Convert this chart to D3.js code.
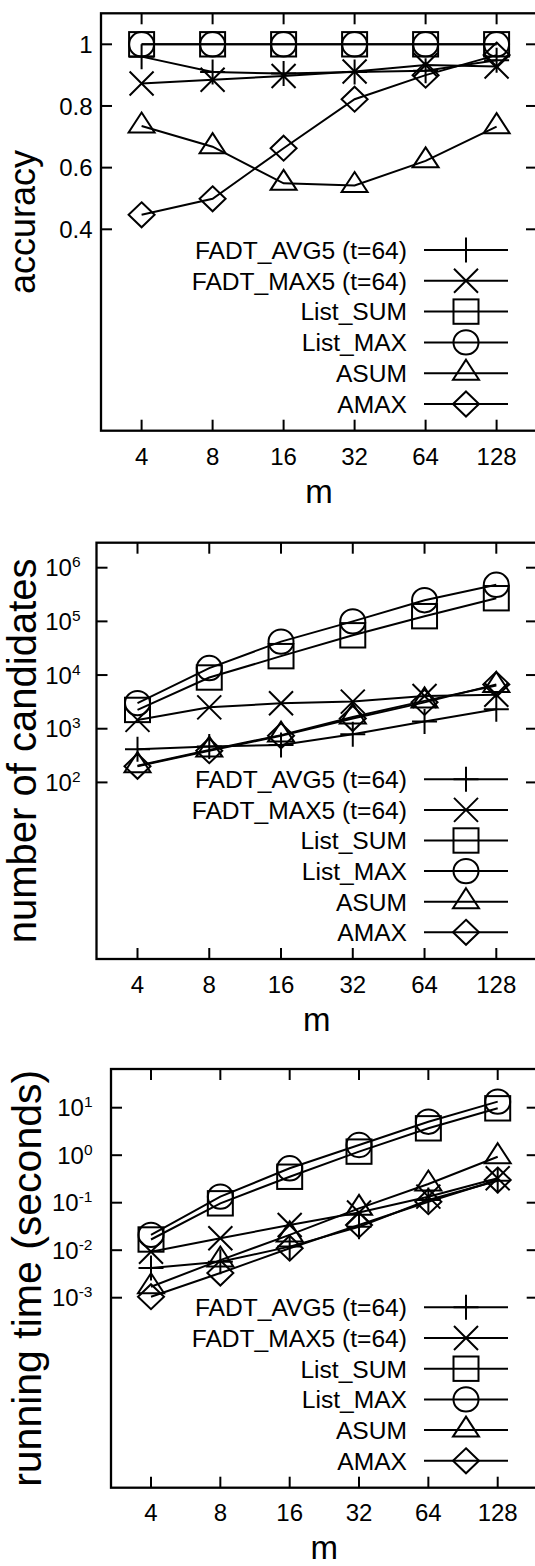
<!DOCTYPE html>
<html><head><meta charset="utf-8">
<script src="https://cdn.jsdelivr.net/npm/d3@7"></script>
<style>
body{margin:0;background:#fff}
svg{display:block}
text{font-family:"Liberation Sans",Arial,Helvetica,sans-serif;fill:#000}
</style>
</head><body>
<svg id="chart" width="535" height="1566"></svg>
<script>
// ---------- data ----------
const mValues = [4, 8, 16, 32, 64, 128];
const xTickLabels = ["4", "8", "16", "32", "64", "128"];
const seriesNames = ["FADT_AVG5 (t=64)", "FADT_MAX5 (t=64)", "List_SUM", "List_MAX", "ASUM", "AMAX"];
const seriesSymbols = ["plus", "cross", "square", "circle", "triangle", "diamond"];

// accuracy
const accFADT_AVG5 = [0.96, 0.91, 0.905, 0.91, 0.914, 0.948];
const accFADT_MAX5 = [0.873, 0.885, 0.897, 0.912, 0.933, 0.928];
const accList_SUM  = [1, 1, 1, 1, 1, 1];
const accList_MAX  = [1, 1, 1, 1, 1, 1];
const accASUM      = [0.735, 0.668, 0.549, 0.542, 0.622, 0.733];
const accAMAX      = [0.447, 0.499, 0.663, 0.822, 0.9, 0.965];
const accTicks = [0.4, 0.6, 0.8, 1];
const accTickLabels = ["0.4", "0.6", "0.8", "1"];

// number of candidates
const candFADT_AVG5 = [415, 465, 500, 790, 1360, 2300];
const candFADT_MAX5 = [1460, 2500, 2990, 3200, 4080, 4300];
const candList_SUM  = [2240, 9000, 22500, 55000, 125000, 270000];
const candList_MAX  = [3000, 13500, 42000, 100000, 248000, 480000];
const candASUM      = [205, 400, 760, 1650, 3300, 6400];
const candAMAX      = [200, 390, 740, 1550, 3100, 6700];
const candTicks = [1e2, 1e3, 1e4, 1e5, 1e6];
const candTickExponents = ["2", "3", "4", "5", "6"];

// running time (seconds)
const timeFADT_AVG5 = [0.0042, 0.0057, 0.0119, 0.031, 0.114, 0.29];
const timeFADT_MAX5 = [0.0093, 0.0178, 0.034, 0.062, 0.134, 0.327];
const timeList_SUM  = [0.0168, 0.097, 0.352, 1.19, 3.68, 9.7];
const timeList_MAX  = [0.021, 0.134, 0.53, 1.64, 5.07, 13.4];
const timeASUM      = [0.0017, 0.0062, 0.021, 0.076, 0.248, 0.93];
const timeAMAX      = [0.00105, 0.0033, 0.011, 0.034, 0.105, 0.30];
const timeTicks = [1e-3, 1e-2, 1e-1, 1, 10];
const timeTickExponents = ["-3", "-2", "-1", "0", "1"];

// ---------- layout ----------
const panels = [
  { series: [accFADT_AVG5, accFADT_MAX5, accList_SUM, accList_MAX, accASUM, accAMAX],
    yType: "linear", yDomain: [0.4, 1], yRange: [229.3, 44.3],
    ticks: accTicks, tickLabels: accTickLabels, exps: null,
    left: 101, right: 537, top: 13.3, bottom: 430.7, x4: 141.6, x128: 496.6,
    tickRight: 92.5, legendY: 250, legendDy: 30.8, xTickBase: 465, mBase: 503.3,
    yLabel: "accuracy", yLabelX: 35, yLabelSize: 36 },
  { series: [candFADT_AVG5, candFADT_MAX5, candList_SUM, candList_MAX, candASUM, candAMAX],
    yType: "log", yDomain: [1e2, 1e6], yRange: [782.4, 567.7],
    ticks: candTicks, tickLabels: null, exps: candTickExponents,
    left: 96.5, right: 537, top: 542.7, bottom: 959, x4: 137.5, x128: 496.3,
    tickRight: 80.5, legendY: 779.3, legendDy: 30.6, xTickBase: 993, mBase: 1031,
    yLabel: "number of candidates", yLabelX: 36, yLabelSize: 40 },
  { series: [timeFADT_AVG5, timeFADT_MAX5, timeList_SUM, timeList_MAX, timeASUM, timeAMAX],
    yType: "log", yDomain: [1e-3, 10], yRange: [1297.7, 1107.7],
    ticks: timeTicks, tickLabels: null, exps: timeTickExponents,
    left: 111, right: 537.7, top: 1069, bottom: 1487.7, x4: 151, x128: 497.7,
    tickRight: 92.5, legendY: 1307.3, legendDy: 30.7, xTickBase: 1520.7, mBase: 1559,
    yLabel: "running time (seconds)", yLabelX: 41, yLabelSize: 41 }
];

const svg = d3.select("#chart");
const LW = 2;

function drawSymbol(g, type, cx, cy) {
  const s = 12.5;
  let el;
  if (type === "plus") {
    el = g.append("path").attr("d", `M${cx - s},${cy}H${cx + s}M${cx},${cy - s}V${cy + s}`);
  } else if (type === "cross") {
    const c = 12;
    el = g.append("path").attr("d", `M${cx - c},${cy - c}L${cx + c},${cy + c}M${cx - c},${cy + c}L${cx + c},${cy - c}`);
  } else if (type === "square") {
    el = g.append("rect").attr("x", cx - 12.5).attr("y", cy - 12.2).attr("width", 25).attr("height", 24.4);
  } else if (type === "circle") {
    el = g.append("ellipse").attr("cx", cx).attr("cy", cy).attr("rx", 12.5).attr("ry", 12.2);
  } else if (type === "triangle") {
    el = g.append("path").attr("d", `M${cx},${cy - 13.5}L${cx + 13},${cy + 6.5}L${cx - 13},${cy + 6.5}Z`);
  } else if (type === "diamond") {
    el = g.append("path").attr("d", `M${cx},${cy - 12.5}L${cx + 13},${cy}L${cx},${cy + 12.5}L${cx - 13},${cy}Z`);
  }
  el.attr("fill", "none").attr("stroke", "#000").attr("stroke-width", LW);
}

panels.forEach(p => {
  const g = svg.append("g");
  const x = d3.scaleLog().base(2).domain([4, 128]).range([p.x4, p.x128]);
  const y = (p.yType === "log" ? d3.scaleLog() : d3.scaleLinear()).domain(p.yDomain).range(p.yRange);

  // frame
  g.append("rect").attr("x", p.left).attr("y", p.top)
    .attr("width", p.right - p.left).attr("height", p.bottom - p.top)
    .attr("fill", "none").attr("stroke", "#000").attr("stroke-width", 2.3);

  // x ticks (bottom & top, inward)
  mValues.forEach((m, i) => {
    const xx = x(m);
    g.append("line").attr("x1", xx).attr("x2", xx).attr("y1", p.bottom).attr("y2", p.bottom - 11)
      .attr("stroke", "#000").attr("stroke-width", LW);
    g.append("line").attr("x1", xx).attr("x2", xx).attr("y1", p.top).attr("y2", p.top + 11)
      .attr("stroke", "#000").attr("stroke-width", LW);
    g.append("text").attr("x", xx).attr("y", p.xTickBase).attr("text-anchor", "middle")
      .attr("font-size", 24).text(xTickLabels[i]);
  });

  // y ticks (left & right, inward)
  p.ticks.forEach((t, i) => {
    const yy = y(t);
    g.append("line").attr("x1", p.left).attr("x2", p.left + 11).attr("y1", yy).attr("y2", yy)
      .attr("stroke", "#000").attr("stroke-width", LW);
    g.append("line").attr("x1", p.right).attr("x2", p.right - 11).attr("y1", yy).attr("y2", yy)
      .attr("stroke", "#000").attr("stroke-width", LW);
    const tx = g.append("text").attr("x", p.tickRight).attr("y", yy).attr("dy", "0.36em")
      .attr("text-anchor", "end").attr("font-size", 24);
    if (p.exps) {
      tx.append("tspan").text("10");
      tx.append("tspan").attr("dy", -9).attr("font-size", 15.5).text(p.exps[i]);
    } else {
      tx.text(p.tickLabels[i]);
    }
  });

  // axis labels
  g.append("text").attr("x", (p.left + p.right) / 2).attr("y", p.mBase)
    .attr("text-anchor", "middle").attr("font-size", 33).text("m");
  g.append("text")
    .attr("transform", `translate(${p.yLabelX},${(p.top + p.bottom) / 2}) rotate(-90)`)
    .attr("text-anchor", "middle").attr("font-size", p.yLabelSize).text(p.yLabel);

  // series lines
  const line = d3.line().x((d, i) => x(mValues[i])).y(d => y(d));
  p.series.forEach(vals => {
    g.append("path").attr("d", line(vals)).attr("fill", "none")
      .attr("stroke", "#000").attr("stroke-width", LW);
  });
  // symbols
  p.series.forEach((vals, si) => {
    vals.forEach((v, i) => drawSymbol(g, seriesSymbols[si], x(mValues[i]), y(v)));
  });

  // legend
  seriesNames.forEach((name, si) => {
    const ly = p.legendY + si * p.legendDy;
    g.append("text").attr("x", 407).attr("y", ly).attr("dy", "0.36em")
      .attr("text-anchor", "end").attr("font-size", 24.6).text(name);
    g.append("line").attr("x1", 424).attr("x2", 508).attr("y1", ly).attr("y2", ly)
      .attr("stroke", "#000").attr("stroke-width", LW);
    drawSymbol(g, seriesSymbols[si], 466, ly);
  });
});
</script>
</body></html>
